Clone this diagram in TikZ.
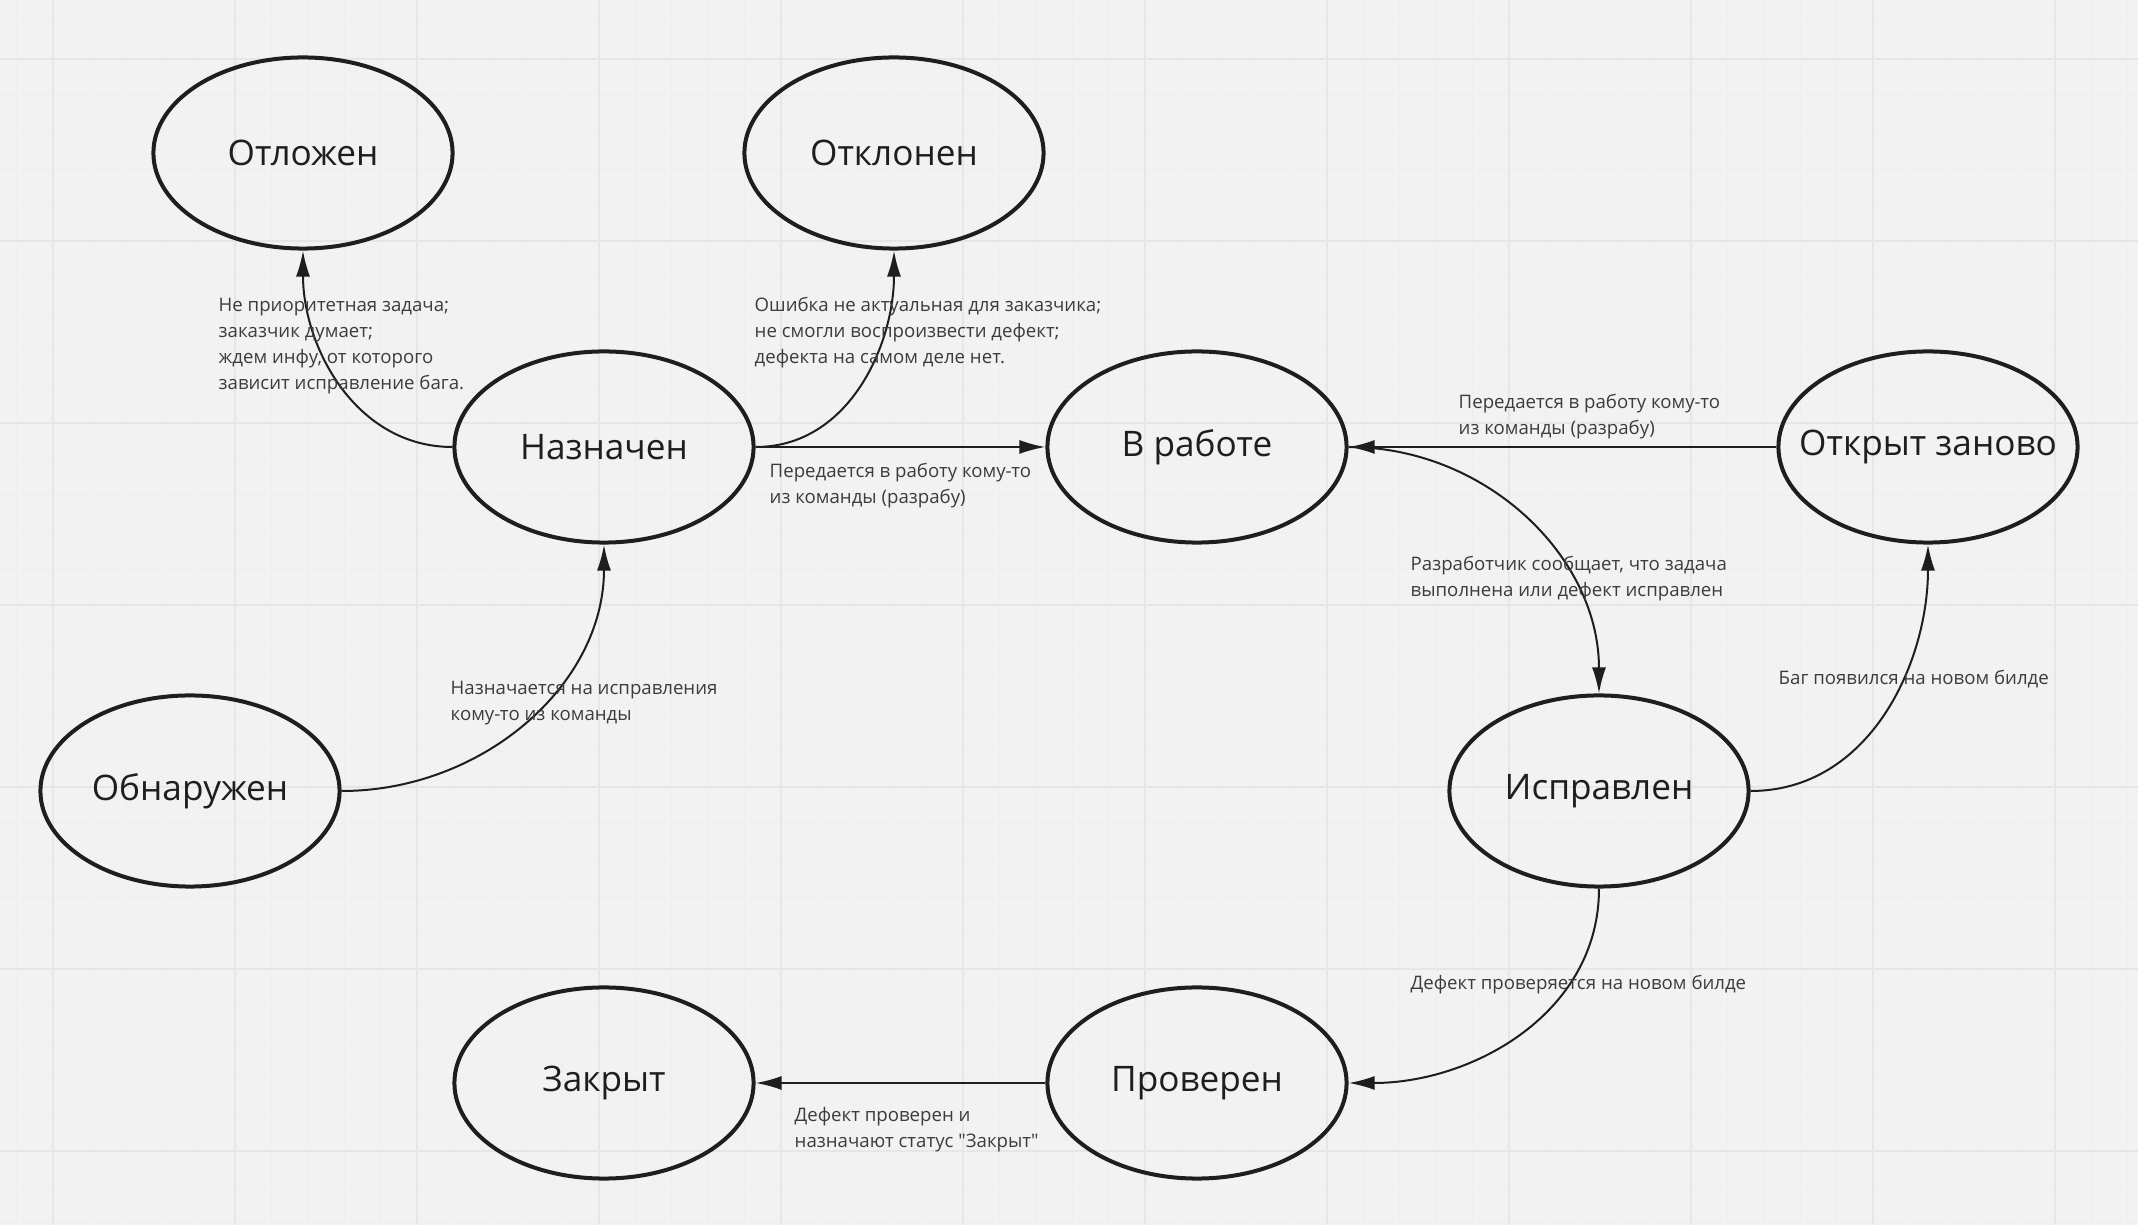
\documentclass[tikz,border=0pt]{standalone}
\usepackage{fontspec}
\setmainfont{Open Sans}[Ligatures=TeXOff]
\usetikzlibrary{arrows.meta,shapes.geometric}
\definecolor{paper}{HTML}{F2F2F2}
\definecolor{gridminor}{HTML}{EEEEEE}
\definecolor{gridmajor}{HTML}{E6E6E6}
\definecolor{ink}{HTML}{1E1E1E}
\definecolor{note}{HTML}{3C3C3C}

\begin{document}
\begin{tikzpicture}[x=0.01cm, y=-0.01cm]
\tikzstyle{state}=[ellipse, draw=ink, line width=0.04cm, minimum width=2.99cm, minimum height=1.91cm, inner sep=0pt, text=ink, font=\fontsize{10}{12}\selectfont]
\tikzstyle{remark}=[anchor=west, align=left, inner sep=0pt, text=note, font=\fontsize{5.3}{7.4}\selectfont]
\tikzstyle{arrow}=[-{Latex[length=0.26cm, width=0.14cm]}, line width=0.02cm, draw=ink]

% background and grid
\fill [paper] (0,0) rectangle (2138,1225);
\useasboundingbox (0,0) rectangle (2138,1225);
\foreach \i in {0,...,58} \draw [gridminor, line width=0.01cm] (16.6+36.4*\i,0) -- (16.6+36.4*\i,1225);
\foreach \j in {0,...,33} \draw [gridminor, line width=0.01cm] (0,22.6+36.4*\j) -- (2138,22.6+36.4*\j);
\foreach \i in {0,...,11} \draw [gridmajor, line width=0.015cm] (53+182*\i,0) -- (53+182*\i,1225);
\foreach \j in {0,...,6} \draw [gridmajor, line width=0.015cm] (0,59+182*\j) -- (2138,59+182*\j);

\node (postponed) [state] at (303,153)  {Отложен};
\node (rejected)  [state] at (894,153)  {Отклонен};
\node (assigned)  [state] at (604,447)  {Назначен};
\node (progress)  [state] at (1197,447) {В работе};
\node (reopened)  [state] at (1928,447) {\makebox[0pt]{Открыт заново}};
\node (found)     [state] at (190,791)  {Обнаружен};
\node (fixed)     [state] at (1599,791) {Исправлен};
\node (closed)    [state] at (604,1083) {Закрыт};
\node (verified)  [state] at (1197,1083) {Проверен};

\draw [arrow] (assigned.west) to[out=180, in=-90] (postponed.south);
\draw [arrow] (assigned.east) to[out=0, in=-90] (rejected.south);
\draw [arrow] (assigned.east) -- (progress.west);
\draw [arrow] (reopened.west) -- (progress.east);
\draw [arrow] (found.east) to[out=0, in=-90] (assigned.south);
\draw [arrow] (progress.east) to[out=0, in=90] (fixed.north);
\draw [arrow] (fixed.east) to[out=0, in=-90] (reopened.south);
\draw [arrow] (fixed.south) to[out=-90, in=0] (verified.east);
\draw [arrow] (verified.west) -- (closed.east);

\node (whyPostponed) [remark] at (218,346) {Не приоритетная задача;\\заказчик думает;\\ждем инфу, от которого\\зависит исправление бага.};
\node (whyRejected) [remark] at (754,333) {Ошибка не актуальная для заказчика;\\не смогли воспроизвести дефект;\\дефекта на самом деле нет.};
\node (toWork) [remark] at (769,486) {Передается в работу кому-то\\из команды (разрабу)};
\node (toWorkAgain) [remark] at (1458,417) {Передается в работу кому-то\\из команды (разрабу)};
\node (devDone) [remark] at (1410,579) {Разработчик сообщает, что задача\\выполнена или дефект исправлен};
\node (bugBack) [remark] at (1778,679) {Баг появился на новом билде};
\node (toAssign) [remark] at (450,703) {Назначается на исправления\\кому-то из команды};
\node (checkBuild) [remark] at (1410,985) {Дефект проверяется на новом билде};
\node (toClose) [remark] at (794,1130) {Дефект проверен и\\назначают статус "Закрыт"};

\end{tikzpicture}
\end{document}
